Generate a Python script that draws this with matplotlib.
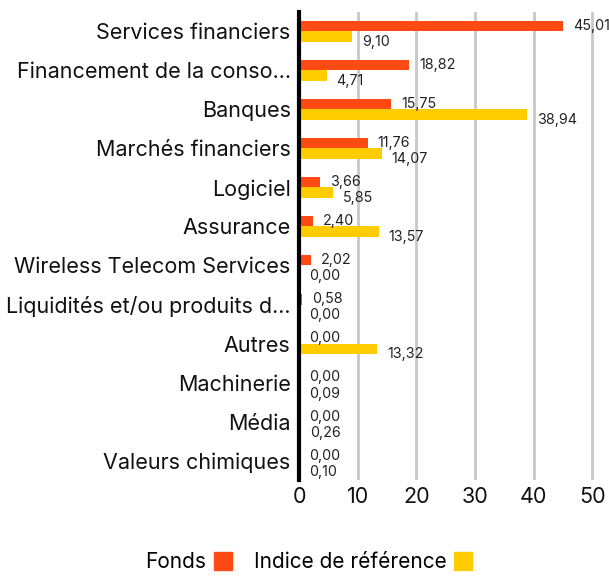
import matplotlib
matplotlib.use("Agg")
import matplotlib.pyplot as plt
from matplotlib.lines import Line2D
import numpy as np

categories = ["Services financiers", "Financement de la conso...", "Banques",
              "Marchés financiers", "Logiciel", "Assurance",
              "Wireless Telecom Services", "Liquidités et/ou produits d...",
              "Autres", "Machinerie", "Média", "Valeurs chimiques"]
fonds = [45.01, 18.82, 15.75, 11.76, 3.66, 2.40, 2.02, 0.58, 0.00, 0.00, 0.00, 0.00]
indice = [9.10, 4.71, 38.94, 14.07, 5.85, 13.57, 0.00, 0.00, 13.32, 0.09, 0.26, 0.10]
xticks = [0, 10, 20, 30, 40, 50]

ORANGE = "#FF4A14"
YELLOW = "#FFCC00"
FONT = "Inter"

plt.rcParams['font.family'] = [FONT, 'DejaVu Sans']

fig = plt.figure(figsize=(6.09, 5.76), dpi=100)
ax = fig.add_axes([0.491, 0.166, 0.501, 0.814])

y = np.arange(len(categories))
h = 0.27
ax.barh(y - h/2, fonds, height=h, color=ORANGE, zorder=3)
ax.barh(y + h/2, indice, height=h, color=YELLOW, zorder=3)

def fmt(v):
    return f"{v:.2f}".replace(".", ",")

for yi, f, i in zip(y, fonds, indice):
    ax.annotate(fmt(f), (f, yi - h/2), xytext=(7, 0), textcoords="offset points",
                va="center", ha="left", fontsize=10.3, color="#222222")
    ax.annotate(fmt(i), (i, yi + h/2), xytext=(7, -4), textcoords="offset points",
                va="center", ha="left", fontsize=10.3, color="#222222")

ax.set_ylim(len(categories) - 0.5, -0.5)
ax.set_xlim(0, 52)
ax.set_yticks(y)
ax.set_yticklabels(categories, fontsize=15.5, color="#111111")
ax.set_xticks(xticks)
ax.set_xticklabels([str(t) for t in xticks], fontsize=15.5, color="#111111")
ax.tick_params(axis="both", length=0)
ax.tick_params(axis="y", pad=6)
ax.tick_params(axis="x", pad=5)

for t in xticks[1:]:
    ax.axvline(t, color="#c8c8c8", lw=2, zorder=1)
for s in ["top", "right", "bottom"]:
    ax.spines[s].set_visible(False)
ax.spines["left"].set_color("black")
ax.spines["left"].set_linewidth(3)
ax.spines["left"].set_zorder(4)

handles = [Line2D([], [], marker="s", linestyle="none", markersize=13,
                  markerfacecolor=ORANGE, markeredgecolor=ORANGE, label="Fonds"),
           Line2D([], [], marker="s", linestyle="none", markersize=13,
                  markerfacecolor=YELLOW, markeredgecolor=YELLOW, label="Indice de référence")]
fig.legend(handles=handles, loc="center", bbox_to_anchor=(0.508, 0.024), ncol=2,
           frameon=False, markerfirst=False, fontsize=15, handletextpad=0.3,
           columnspacing=1.0, handlelength=1.0)

fig.savefig("out.png", dpi=100)
